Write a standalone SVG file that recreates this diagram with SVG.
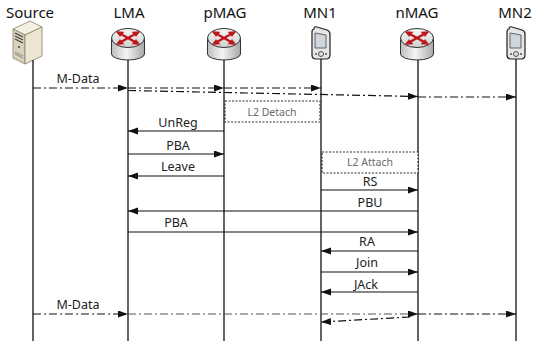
<svg xmlns="http://www.w3.org/2000/svg" width="533" height="341" viewBox="0 0 533 341">
<defs>
<style>
.hdr{font-family:"Noto Sans","DejaVu Sans",sans-serif;font-size:15px;fill:#111;text-anchor:middle}
.lbl{font-family:"Noto Sans","DejaVu Sans",sans-serif;font-size:12.5px;fill:#222;text-anchor:middle}
.note{font-family:"Noto Sans","DejaVu Sans",sans-serif;font-size:10.5px;fill:#6a6a6a;text-anchor:middle}
.life{stroke:#111;stroke-width:1.3;fill:none}
.msg{stroke:#111;stroke-width:1.2;fill:none;marker-end:url(#ah)}
.data{stroke:#111;stroke-width:1.2;fill:none;stroke-dasharray:8 3 2 3;marker-end:url(#ah)}
.datal{stroke:#555;stroke-width:1;fill:none;stroke-dasharray:8 3 2 3;marker-end:url(#ah)}
.box{fill:#fff;stroke:#333;stroke-width:1.2;stroke-dasharray:2 1.5}
</style>
<marker id="ah" markerUnits="userSpaceOnUse" markerWidth="11" markerHeight="8" refX="10" refY="3.5" orient="auto">
<path d="M0,0 L10,3.5 L0,7 z" fill="#111"/>
</marker>
<linearGradient id="cyl" x1="0" y1="0" x2="1" y2="0">
<stop offset="0" stop-color="#bdbdbd"/><stop offset="0.45" stop-color="#f4f4f4"/><stop offset="1" stop-color="#a8a8a8"/>
</linearGradient>
<linearGradient id="ctop" x1="0" y1="0" x2="0" y2="1">
<stop offset="0" stop-color="#f8f8f8"/><stop offset="1" stop-color="#cfcfcf"/>
</linearGradient>
<g id="router">
<path d="M-16.5,0 L-16.5,16 A16.5,6 0 0 0 16.5,16 L16.5,0 z" fill="url(#cyl)" stroke="#333" stroke-width="1"/>
<ellipse cx="0" cy="0" rx="16.5" ry="9.5" fill="url(#ctop)" stroke="#333" stroke-width="1"/>
<g stroke="#c0151b" stroke-width="2.4" fill="#c0151b">
<line x1="-8" y1="4.5" x2="8" y2="-4.5"/><line x1="-8" y1="-4.5" x2="8" y2="4.5"/>
<path d="M12,-6.5 L4,-6 L8,-1.5 z" stroke-width="0.5"/>
<path d="M-12,6.5 L-4,6 L-8,1.5 z" stroke-width="0.5"/>
<path d="M-12,-6.5 L-4,-6 L-8,-1.5 z" stroke-width="0.5"/>
<path d="M12,6.5 L4,6 L8,1.5 z" stroke-width="0.5"/>
</g>
</g>
<g id="phone">
<path d="M-7,-14 Q-7,-17 -4,-16 L6,-13 Q9,-12 9,-9 L9,12 Q9,16 5,16 L-5,16 Q-9,16 -9,12 L-9,-11 Q-9,-14 -7,-14 z" fill="#e6e6e6" stroke="#222" stroke-width="1.2"/>
<path d="M-6,-10 L5,-8 L5,5 L-6,5 z" fill="#cfd6dc" stroke="#444" stroke-width="0.8"/>
<circle cx="0" cy="11" r="2.5" fill="#ddd" stroke="#333" stroke-width="0.8"/>
<circle cx="-5" cy="11" r="1" fill="#555"/><circle cx="5" cy="11" r="1" fill="#555"/>
</g>
</defs>
<rect width="533" height="341" fill="#fff"/>

<g id="node-source">
<text class="hdr" x="30" y="18">Source</text>
<path d="M13,29 L30,21 L42,27 L25,35 z" fill="#f4f0e2" stroke="#8a826c" stroke-width="0.8"/>
<path d="M13,29 L25,35 L25,64 L13,58 z" fill="#d9d1ba" stroke="#8a826c" stroke-width="0.8"/>
<path d="M25,35 L42,27 L42,56 L25,64 z" fill="#ebe5d2" stroke="#8a826c" stroke-width="0.8"/>
<path d="M15,33 L23,37 M15,36 L23,40 M15,39 L23,43" stroke="#444" stroke-width="1.2"/>
<circle cx="19" cy="47" r="1" fill="#444"/>
<path d="M15,52 L23,56 M15,54 L23,58" stroke="#777" stroke-width="0.8"/>
<line class="life" x1="33" y1="60" x2="33" y2="341"/>
</g>
<g id="node-lma">
<text class="hdr" x="129" y="18">LMA</text>
<use href="#router" x="128" y="38"/>
<line class="life" x1="128" y1="60" x2="128" y2="341"/>
</g>
<g id="node-pmag">
<text class="hdr" x="225" y="18">pMAG</text>
<use href="#router" x="224" y="38"/>
<line class="life" x1="224" y1="60" x2="224" y2="341"/>
</g>
<g id="node-mn1">
<text class="hdr" x="320" y="18">MN1</text>
<use href="#phone" x="321" y="43"/>
<line class="life" x1="321" y1="59" x2="321" y2="341"/>
</g>
<g id="node-nmag">
<text class="hdr" x="417" y="18">nMAG</text>
<use href="#router" x="417" y="38"/>
<line class="life" x1="418" y1="60" x2="418" y2="341"/>
</g>
<g id="node-mn2">
<text class="hdr" x="515" y="18">MN2</text>
<use href="#phone" x="516" y="43"/>
<line class="life" x1="516" y1="59" x2="516" y2="341"/>
</g>

<g id="notes">
<rect class="box" x="225" y="101" width="95" height="21"/>
<text class="note" x="272" y="115.5">L2 Detach</text>
<rect class="box" x="322" y="152" width="96" height="21"/>
<text class="note" x="370" y="166">L2 Attach</text>
</g>

<g id="connectors">
<line class="data" x1="33" y1="88" x2="128" y2="88"/>
<line class="data" x1="128" y1="88" x2="224" y2="88"/>
<line class="data" x1="224" y1="88" x2="321" y2="88"/>
<line class="data" x1="128" y1="90.5" x2="418" y2="96.5"/>
<line class="data" x1="418" y1="97" x2="516" y2="97"/>
<line class="msg" x1="224" y1="131" x2="128" y2="131"/>
<line class="msg" x1="128" y1="154" x2="224" y2="154"/>
<line class="msg" x1="224" y1="176" x2="128" y2="176"/>
<line class="msg" x1="321" y1="190" x2="418" y2="190"/>
<line class="msg" x1="418" y1="211" x2="128" y2="211"/>
<line class="msg" x1="128" y1="232" x2="418" y2="232"/>
<line class="msg" x1="418" y1="251" x2="321" y2="251"/>
<line class="msg" x1="321" y1="272" x2="418" y2="272"/>
<line class="msg" x1="418" y1="292" x2="321" y2="292"/>
<line class="data" x1="33" y1="314" x2="128" y2="314"/>
<line class="datal" x1="128" y1="314" x2="418" y2="314"/>
<line class="data" x1="418" y1="314" x2="516" y2="314"/>
<line class="data" x1="410" y1="317" x2="321" y2="322"/>
</g>

<g id="labels">
<text class="lbl" x="78" y="83">M-Data</text>
<text class="lbl" x="178" y="127">UnReg</text>
<text class="lbl" x="178" y="150">PBA</text>
<text class="lbl" x="178" y="171">Leave</text>
<text class="lbl" x="370" y="186">RS</text>
<text class="lbl" x="370" y="207">PBU</text>
<text class="lbl" x="176" y="227">PBA</text>
<text class="lbl" x="367" y="246">RA</text>
<text class="lbl" x="367" y="267">Join</text>
<text class="lbl" x="366" y="289">JAck</text>
<text class="lbl" x="78" y="309">M-Data</text>
</g>
</svg>
